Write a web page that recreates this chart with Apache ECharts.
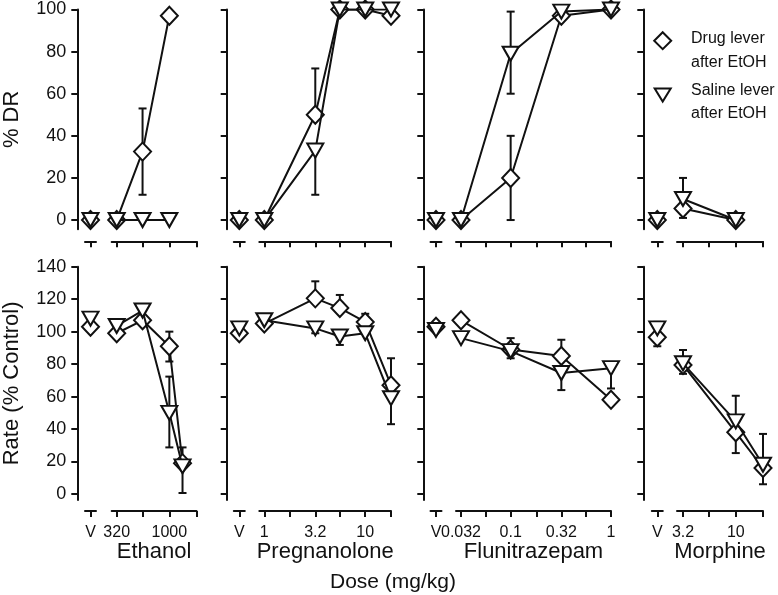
<!DOCTYPE html>
<html>
<head>
<meta charset="UTF-8">
<title>Drug lever / saline lever after EtOH</title>
<script src="https://cdn.jsdelivr.net/npm/echarts@6.0.0/dist/echarts.min.js"></script>
<style>
  body { margin: 0; background: #fff; }
  #main { width: 778px; height: 595px; }
</style>
</head>
<body>
<div id="main"></div>
<script>
// one column of panels per drug
var drugs = ["Ethanol", "Pregnanolone", "Flunitrazepam", "Morphine"];

// x axis ticks / labelled doses (mg/kg)
var tickDoses = [[320, 560, 1000, 1800], [1, 1.8, 3.2, 5.6, 10, 18], [0.032, 0.056, 0.1, 0.18, 0.32, 0.56, 1], [3.2, 5.6, 10, 18]];
var labelDoses = [["320", "1000"], ["1", "3.2", "10"], ["0.032", "0.1", "0.32", "1"], ["3.2", "10"]];

// top row : % drug lever responding
var drDoses = [[320, 560, 1000], [1, 3.2, 5.6, 10, 18], [0.032, 0.1, 0.32, 1], [3.2, 10]];
var drDrugV = [0, 0, 0, 0];
var drSalV = [0, 0, 0, 0];
var drDrug = [[0, 32.5, 97], [0, 50, 100, 100, 97], [0, 20, 97, 100], [5.5, 0]];
var drSal = [[0, 0, 0], [0, 33, 100, 100, 100], [0, 79, 99, 100], [10, 0]];
var drDrugErr = [[null, [12, 53], null], [null, [50, 72], null, null, null], [null, [0, 40], null, null], [[1, 5.5], null]];
var drSalErr = [[null, null, null], [null, [12, 33], null, null, null], [null, [60, 99], null, null], [[10, 20], null]];

// bottom row : rate (% control)
var rateDoses = [[320, 560, 1000, 1330], [1, 3.2, 5.6, 10, 18], [0.032, 0.1, 0.32, 1], [3.2, 10, 18]];
var rateDrugV = [103, 99, 103, 96.5];
var rateSalV = [108, 102, 101, 102];
var rateDrugVErr = [null, null, null, [91, 96.5]];
var rateSalVErr = [null, null, null, [102, 106]];
var rateDrug = [[99, 107, 91, 19], [105, 120.5, 114.5, 106, 67], [107, 89, 85, 58], [79.5, 38, 16]];
var rateSal = [[103.5, 113, 50, 17], [107, 102, 97, 99, 59], [96, 88, 74.5, 77.5], [80.5, 44.7, 18]];
var rateDrugErr = [[[96, 99], null, [81.6, 100], [19, 28.7]], [null, [120.5, 131], [114.5, 122.6], [106, 111], [67, 83.6]], [null, [89, 96], [85, 95], null], [[74, 79.5], [25.2, 38], [6, 16]]];
var rateSalErr = [[[103.5, 106], [113, 116], [28.7, 72.3], [0.6, 17]], [null, [99, 102], [91.8, 97], null, [43, 59]], [null, [83.6, 88], [64, 74.5], [65, 77.5]], [[80.5, 88.7], [44.7, 60.5], [18, 37]]];

var FONT = "Liberation Sans, Arial, sans-serif";
var INK = "#111";

// pixel layout of each column: y axis, V tick, start of dose axis, first / last tick
var cols = [
	{yAx: 77.3, v: 90.5, start: 111.7, first: 116.7, last: 196.5},
	{yAx: 226.7, v: 239.3, start: 259.3, first: 264.3, last: 391},
	{yAx: 423.3, v: 436, start: 456, first: 461, last: 611},
	{yAx: 643.3, v: 657.3, start: 677, first: 683, last: 763}
];
var rows = [
	{top: 9.5, bottom: 229.3, min: -4.4, max: 100, ticks: [0, 20, 40, 60, 80, 100], xOffset: 12, name: "% DR"},
	{top: 266.7, bottom: 500, min: -3.7, max: 140, ticks: [0, 20, 40, 60, 80, 100, 120, 140], xOffset: 11, name: "Rate (% Control)"}
];

var grids = [], xAxes = [], yAxes = [], series = [];

function errItem(params, api) {
	var x = api.value(0);
	var p1 = api.coord([x, api.value(1)]);
	var p2 = api.coord([x, api.value(2)]);
	var cap = 4, st = {stroke: INK, lineWidth: 2};
	return {
		type: "group",
		children: [
			{type: "line", shape: {x1: p1[0], y1: p1[1], x2: p2[0], y2: p2[1]}, style: st},
			{type: "line", shape: {x1: p1[0] - cap, y1: p1[1], x2: p1[0] + cap, y2: p1[1]}, style: st},
			{type: "line", shape: {x1: p2[0] - cap, y1: p2[1], x2: p2[0] + cap, y2: p2[1]}, style: st}
		]
	};
}

function errData(xs, errs) {
	var out = [];
	for (var i = 0; i < errs.length; i++) {
		if (errs[i]) out.push([xs[i], errs[i][0], errs[i][1]]);
	}
	return out;
}

var drugStyle = {
	symbol: "diamond", symbolSize: [17, 18], symbolRotate: 0,
	itemStyle: {color: "#fff", borderColor: INK, borderWidth: 2, opacity: 1}
};
var salStyle = {
	symbol: "triangle", symbolSize: [16, 14], symbolRotate: 180,
	itemStyle: {color: "#fff", borderColor: INK, borderWidth: 2, opacity: 1}
};

function addPanel(r, c, doses, dV, sV, dVals, sVals, dErr, sErr, dVErr, sVErr) {
	var row = rows[r], col = cols[c];
	var h = row.bottom - row.top;
	var isBottom = r === 1;
	var lineStyle = {color: INK, width: 2};
	var tickStyle = {show: true, length: 6, lineStyle: {color: INK, width: 2}};

	// V (vehicle) grid
	var gv = grids.length;
	grids.push({left: col.v - 5.5, top: row.top, width: 11, height: h});
	xAxes.push({
		type: "value", gridIndex: gv, min: -1, max: 1,
		offset: row.xOffset,
		axisLine: {onZero: false, lineStyle: lineStyle},
		axisTick: Object.assign({customValues: [0]}, tickStyle),
		axisLabel: {show: isBottom, customValues: [0], formatter: function () { return "V"; },
			color: INK, fontSize: 16, fontFamily: FONT, margin: 14},
		splitLine: {show: false}
	});
	yAxes.push({
		type: "value", gridIndex: gv, min: row.min, max: row.max,
		offset: (col.v - 5.5) - col.yAx,
		name: c === 0 ? row.name : "",
		nameLocation: "middle", nameGap: 54,
		nameTextStyle: {color: INK, fontSize: 22, fontFamily: FONT},
		axisLine: {show: true, onZero: false, lineStyle: lineStyle},
		axisTick: Object.assign({customValues: row.ticks}, tickStyle),
		axisLabel: {show: c === 0, customValues: row.ticks, color: INK, fontSize: 18, fontFamily: FONT, margin: 11},
		splitLine: {show: false}
	});

	// dose grid (log10 dose)
	var logT = tickDoses[c].map(Math.log10);
	var logL = labelDoses[c].map(function (s) { return Math.log10(parseFloat(s)); });
	var ppl = (col.last - col.first) / (logT[logT.length - 1] - logT[0]);
	var gm = grids.length;
	grids.push({left: col.start, top: row.top, width: col.last - col.start, height: h});
	xAxes.push({
		type: "value", gridIndex: gm,
		min: logT[0] - (col.first - col.start) / ppl,
		max: logT[logT.length - 1],
		offset: row.xOffset,
		name: isBottom ? drugs[c] : "",
		nameLocation: "middle", nameGap: 30, nameMoveOverlap: false,
		nameTextStyle: {color: INK, fontSize: 22, fontFamily: FONT, verticalAlign: "top"},
		axisLine: {onZero: false, lineStyle: lineStyle},
		axisTick: Object.assign({customValues: logT}, tickStyle),
		axisLabel: {show: isBottom, customValues: logL, color: INK, fontSize: 16, fontFamily: FONT, margin: 14,
			formatter: function (v) {
				for (var i = 0; i < logL.length; i++) {
					if (Math.abs(logL[i] - v) < 1e-6) return labelDoses[c][i];
				}
				return "";
			}},
		splitLine: {show: false}
	});
	yAxes.push({type: "value", gridIndex: gm, min: row.min, max: row.max, show: false});

	var xs = doses.map(Math.log10);

	// error bars under the markers
	series.push({type: "custom", xAxisIndex: gv, yAxisIndex: gv, renderItem: errItem, z: 1,
		data: errData([0], [dVErr]).concat(errData([0], [sVErr]))});
	series.push({type: "custom", xAxisIndex: gm, yAxisIndex: gm, renderItem: errItem, z: 1,
		data: errData(xs, dErr).concat(errData(xs, sErr))});

	// vehicle points
	series.push(Object.assign({type: "scatter", name: "Drug lever after EtOH", xAxisIndex: gv, yAxisIndex: gv, z: 2,
		data: [[0, dV]]}, drugStyle));
	series.push(Object.assign({type: "scatter", name: "Saline lever after EtOH", xAxisIndex: gv, yAxisIndex: gv, z: 3,
		data: [[0, sV]]}, salStyle));

	// dose-effect curves
	series.push(Object.assign({type: "line", name: "Drug lever after EtOH", xAxisIndex: gm, yAxisIndex: gm, z: 2,
		showAllSymbol: true, lineStyle: {color: INK, width: 2},
		data: dVals.map(function (v, i) { return [xs[i], v]; })}, drugStyle));
	series.push(Object.assign({type: "line", name: "Saline lever after EtOH", xAxisIndex: gm, yAxisIndex: gm, z: 3,
		showAllSymbol: true, lineStyle: {color: INK, width: 2},
		data: sVals.map(function (v, i) { return [xs[i], v]; })}, salStyle));
}

for (var c = 0; c < drugs.length; c++) {
	addPanel(0, c, drDoses[c], drDrugV[c], drSalV[c], drDrug[c], drSal[c], drDrugErr[c], drSalErr[c], null, null);
	addPanel(1, c, rateDoses[c], rateDrugV[c], rateSalV[c], rateDrug[c], rateSal[c], rateDrugErr[c], rateSalErr[c], rateDrugVErr[c], rateSalVErr[c]);
}

var legendText = {fill: INK, fontSize: 16, fontFamily: FONT, verticalAlign: "middle"};
var graphic = [
	{type: "polygon", shape: {points: [[662.7, 32.2], [671.2, 40.7], [662.7, 49.2], [654.2, 40.7]]},
		style: {fill: "#fff", stroke: INK, lineWidth: 2}},
	{type: "polygon", shape: {points: [[654.7, 88.5], [670.7, 88.5], [662.7, 101.5]]},
		style: {fill: "#fff", stroke: INK, lineWidth: 2}},
	{type: "text", left: 691, top: 31, style: Object.assign({text: "Drug lever"}, legendText)},
	{type: "text", left: 691, top: 55, style: Object.assign({text: "after EtOH"}, legendText)},
	{type: "text", left: 691, top: 83, style: Object.assign({text: "Saline lever"}, legendText)},
	{type: "text", left: 691, top: 106, style: Object.assign({text: "after EtOH"}, legendText)},
	{type: "text", left: 330, top: 572, style: {text: "Dose (mg/kg)", fill: INK, fontSize: 21, fontFamily: FONT}}
];

var chart = echarts.init(document.getElementById("main"));
chart.setOption({
	animation: false,
	backgroundColor: "#fff",
	grid: grids,
	xAxis: xAxes,
	yAxis: yAxes,
	graphic: graphic,
	series: series
});
</script>
</body>
</html>
